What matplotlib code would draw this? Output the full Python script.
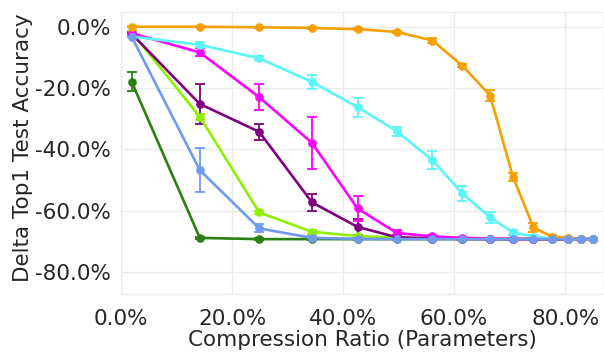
"""Delta top-1 accuracy vs compression ratio, one line per method."""

import matplotlib

matplotlib.use("Agg")
import matplotlib.pyplot as plt

# compression ratio (%) shared by every series
ratio = [1.9, 14.2, 24.9, 34.4, 42.6, 49.7, 56.1, 61.5, 66.5, 70.6, 74.3, 77.6, 80.5, 82.8, 85.0]

green = [-17.9, -68.9, -69.3, -69.3, -69.3, -69.3, -69.3, -69.3, -69.3, -69.3, -69.3, -69.3, -69.3, -69.3, -69.3]
green_err = [3.0, 0.4, 0.3, 0.3, 0.3, 0.3, 0.3, 0.3, 0.3, 0.3, 0.3, 0.3, 0.3, 0.3, 0.3]
lime = [-1.7, -29.4, -60.6, -66.9, -68.3, -68.8, -69.0, -69.1, -69.2, -69.2, -69.3, -69.3, -69.3, -69.3, -69.3]
lime_err = [0.3, 1.0, 0.6, 0.6, 0.4, 0.3, 0.3, 0.3, 0.3, 0.3, 0.3, 0.3, 0.3, 0.3, 0.3]
purple = [-2.3, -25.2, -34.3, -57.3, -65.3, -68.7, -69.1, -69.2, -69.3, -69.3, -69.3, -69.3, -69.3, -69.3, -69.3]
purple_err = [0.3, 6.5, 2.5, 2.8, 2.7, 0.6, 0.3, 0.3, 0.3, 0.3, 0.3, 0.3, 0.3, 0.3, 0.3]
magenta = [-2.1, -8.4, -23.0, -37.9, -59.3, -67.3, -68.4, -68.9, -69.1, -69.2, -69.3, -69.3, -69.3, -69.3, -69.3]
magenta_err = [0.3, 1.3, 4.2, 8.5, 4.2, 1.0, 0.6, 0.4, 0.3, 0.3, 0.3, 0.3, 0.3, 0.3, 0.3]
cyan = [-3.2, -5.9, -10.3, -18.0, -26.2, -34.1, -43.6, -54.4, -62.2, -67.1, -68.5, -69.1, -69.2, -69.3, -69.3]
cyan_err = [0.3, 0.8, 0.6, 2.3, 3.1, 1.5, 2.9, 2.4, 1.9, 0.8, 0.5, 0.3, 0.3, 0.3, 0.3]
orange = [0.0, 0.0, -0.2, -0.4, -0.8, -1.7, -4.5, -12.7, -22.5, -49.0, -65.5, -68.5, -68.9, -69.2, -69.3]
orange_err = [0.2, 0.2, 0.2, 0.3, 0.3, 0.4, 0.8, 0.6, 1.8, 1.4, 1.6, 0.5, 0.4, 0.3, 0.3]
blue = [-3.2, -46.8, -65.8, -68.9, -69.2, -69.3, -69.3, -69.3, -69.3, -69.3, -69.3, -69.3, -69.3, -69.3, -69.3]
blue_err = [0.3, 7.1, 1.3, 0.5, 0.3, 0.3, 0.3, 0.3, 0.3, 0.3, 0.3, 0.3, 0.3, 0.3, 0.3]

x_ticks = [0, 20, 40, 60, 80]
y_ticks = [0, -20, -40, -60, -80]

series = [
    (green, green_err, "#2a8010"),
    (lime, lime_err, "#8ef000"),
    (purple, purple_err, "#800080"),
    (magenta, magenta_err, "#ff00ff"),
    (cyan, cyan_err, "#5cf5f5"),
    (orange, orange_err, "#f5a000"),
    (blue, blue_err, "#6f9af0"),
]

GRID = "#ebebeb"
TEXT = "#262626"
FS = 15.5

fig = plt.figure(figsize=(6.04, 3.54), dpi=100)
ax = fig.add_axes([121 / 604, 60 / 354, 1 - 121 / 604, 282 / 354])

for vals, err, color in series:
    ax.errorbar(ratio, vals, yerr=err, color=color, ecolor=color, lw=1.9,
                marker="o", ms=5.2, capsize=3.5, elinewidth=1.3, capthick=1.3)

ax.set_xlim(0, 87.0)
ax.set_ylim(-87.2, 4.8)
ax.set_xticks(x_ticks)
ax.set_yticks(y_ticks)
ax.set_xticklabels([f"{v:.1f}%" for v in x_ticks], fontsize=FS, color=TEXT)
ax.set_yticklabels([f"{v:.1f}%" for v in y_ticks], fontsize=FS, color=TEXT)
ax.tick_params(length=0, pad=7)
ax.tick_params(axis="x", pad=11)
ax.grid(True, color=GRID, lw=1)
ax.set_axisbelow(True)
for sp in ax.spines.values():
    sp.set_color(GRID)
    sp.set_linewidth(1)

fig.text(362 / 604, 1 - 340 / 354, "Compression Ratio (Parameters)", ha="center",
         va="center", fontsize=FS, color=TEXT)
fig.text(23 / 604, 1 - 148 / 354, "Delta Top1 Test Accuracy", ha="center",
         va="center", rotation=90, fontsize=FS, color=TEXT)

fig.savefig("out.png", dpi=100)
